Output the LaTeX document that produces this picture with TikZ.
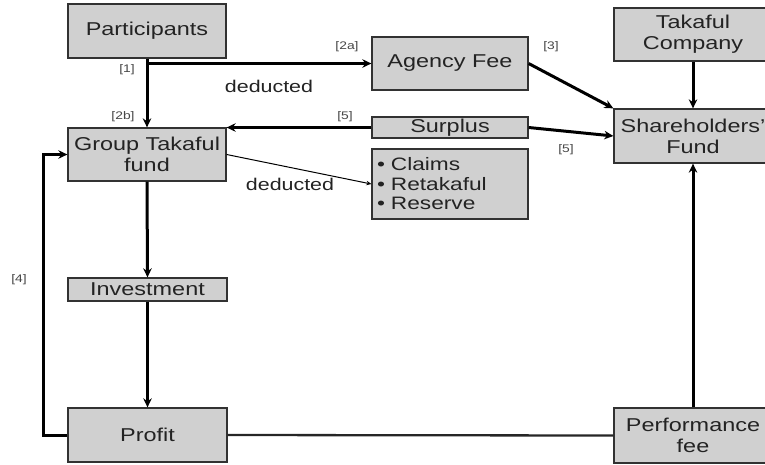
\documentclass[tikz,border=0pt]{standalone}
\usepackage{fontspec}
\setmainfont[FakeStretch=1.26]{Liberation Sans}
\usetikzlibrary{arrows.meta}

\definecolor{boxfill}{RGB}{208,208,208}
\definecolor{boxline}{RGB}{50,50,50}
\definecolor{textcol}{RGB}{35,35,35}
\definecolor{tagcol}{RGB}{70,70,70}

\begin{document}
\begin{tikzpicture}[x=1pt,y=-1pt,
  box/.style={draw=boxline, fill=boxfill, line width=1.3pt, minimum width=158pt,
    inner sep=0pt, align=center, font=\fontsize{18.6}{21}\selectfont, text=textcol},
  flow/.style={line width=3pt, draw=black, -{Stealth[length=9pt,width=8.5pt]}},
  thinflow/.style={line width=1pt, draw=black, -{Stealth[length=5pt,width=4.5pt]}},
  tag/.style={font=\fontsize{11}{13}\selectfont, text=tagcol, inner sep=0pt},
  note/.style={font=\fontsize{17}{20}\selectfont, text=textcol, inner sep=0pt}]

\useasboundingbox (0,0) rectangle (765,464);

% left column
\node[box, minimum height=54pt] (part) at (147,31) {Participants};
\node[box, minimum height=53pt] (gtf) at (147,154.5) {Group Takaful\\fund};
\node[box, minimum width=159pt, minimum height=23pt] (inv) at (147.5,289.5) {Investment};
\node[box, minimum width=159pt, minimum height=54pt] (profit) at (147.5,435) {Profit};

% middle column
\node[box, minimum width=156pt, minimum height=53pt] (agency) at (450,63.5) {Agency Fee};
\node[box, minimum width=156pt, minimum height=21pt] (surplus) at (450,127.5) {Surplus};
\node[box, minimum width=156pt, minimum height=70pt, text width=146pt, align=left,
  font=\fontsize{18}{19.5}\selectfont] (uses) at (450,184) {• Claims\\• Retakaful\\• Reserve};

% right column (runs past the right edge)
\node[box, minimum height=53pt] (tkc) at (693,34.5) {Takaful\\Company};
\node[box, minimum height=54pt] (share) at (693,136) {Shareholders'\\Fund};
\node[box, minimum height=55pt] (perf) at (693,435.5) {Performance\\fee};

% connectors
\coordinate (split) at (part.south |- agency.west);
\draw[flow] (part.south) -- (gtf.north);
\draw[flow] (split) -- (agency.west);
\draw[flow] (surplus.west) -- (surplus.west -| gtf.east);
\draw[thinflow] (gtf.east) -- (uses.west);
\draw[flow] (agency.east) -- (share.north west);
\draw[flow] (surplus.east) -- (share.west);
\draw[flow] (tkc.south) -- (share.north);
\draw[flow] (perf.north) -- (share.south);
\draw[flow] (gtf.south) -- (inv.north);
\draw[flow] (inv.south) -- (profit.north);
\draw[flow] (profit.west) -- ++(-24,0) |- (gtf.west);
\draw[line width=2.3pt, draw=black!85] (profit.east) -- (perf.west);

% step labels
\node[tag] (t1) at (127,70) {[1]};
\node[tag] (t2a) at (347,47) {[2a]};
\node[tag] (t2b) at (123,117) {[2b]};
\node[tag] (t5a) at (345,117) {[5]};
\node[tag] (t3) at (551,47) {[3]};
\node[tag] (t5b) at (566,150) {[5]};
\node[tag] (t4) at (19,280) {[4]};
\node[note] (d1) at (269,86) {deducted};
\node[note] (d2) at (290,184) {deducted};
\end{tikzpicture}
\end{document}
